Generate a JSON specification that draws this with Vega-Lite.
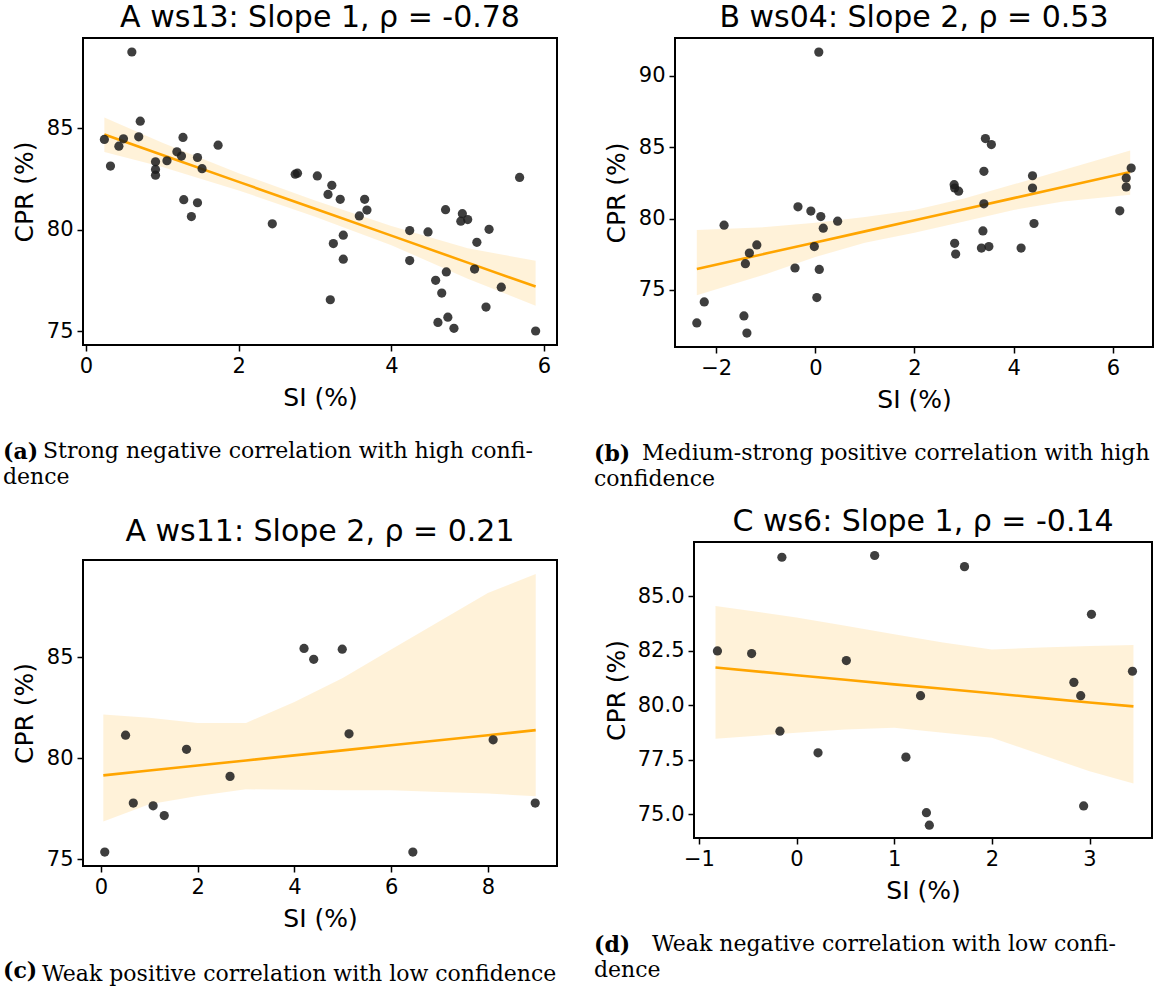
{
  "$schema": "https://vega.github.io/schema/vega-lite/v6.json",
  "background": "white",
  "padding": {"left": 3, "top": 2, "right": 2, "bottom": 2},
  "datasets": {
    "ptsA": [
      {"si":0.60,"cpr":88.77},{"si":0.24,"cpr":84.46},{"si":0.32,"cpr":83.15},{"si":0.49,"cpr":84.49},{"si":0.43,"cpr":84.13},
      {"si":0.71,"cpr":85.36},{"si":0.69,"cpr":84.59},{"si":0.91,"cpr":83.36},{"si":0.91,"cpr":82.98},{"si":0.91,"cpr":82.70},
      {"si":1.06,"cpr":83.41},{"si":1.19,"cpr":83.85},{"si":1.25,"cpr":83.64},{"si":1.27,"cpr":84.56},{"si":1.28,"cpr":81.49},
      {"si":1.38,"cpr":80.66},{"si":1.46,"cpr":83.57},{"si":1.46,"cpr":81.34},{"si":1.52,"cpr":83.02},{"si":1.73,"cpr":84.18},
      {"si":2.44,"cpr":80.30},{"si":2.74,"cpr":82.75},{"si":2.77,"cpr":82.80},{"si":3.03,"cpr":82.66},{"si":3.17,"cpr":81.75},
      {"si":3.22,"cpr":82.20},{"si":3.33,"cpr":81.51},{"si":3.24,"cpr":79.33},{"si":3.20,"cpr":76.56},{"si":3.37,"cpr":79.74},
      {"si":3.37,"cpr":78.56},{"si":3.58,"cpr":80.69},{"si":3.65,"cpr":81.51},{"si":3.68,"cpr":80.98},{"si":4.24,"cpr":79.97},
      {"si":4.24,"cpr":78.49},{"si":4.48,"cpr":79.90},{"si":4.58,"cpr":77.52},{"si":4.61,"cpr":75.44},{"si":4.66,"cpr":76.89},
      {"si":4.71,"cpr":81.00},{"si":4.72,"cpr":77.93},{"si":4.74,"cpr":75.70},{"si":4.82,"cpr":75.15},{"si":4.91,"cpr":80.43},
      {"si":4.93,"cpr":80.80},{"si":5.00,"cpr":80.51},{"si":5.09,"cpr":78.07},{"si":5.12,"cpr":79.39},{"si":5.24,"cpr":76.20},
      {"si":5.28,"cpr":80.03},{"si":5.44,"cpr":77.18},{"si":5.68,"cpr":82.59},{"si":5.89,"cpr":75.02}
    ],
    "fitA": [
      {"si":0.24,"fit":84.70,"lo":83.84,"hi":85.54},
      {"si":1.0,"fit":83.69,"lo":83.10,"hi":84.30},
      {"si":2.0,"fit":82.37,"lo":81.95,"hi":82.80},
      {"si":3.0,"fit":81.04,"lo":80.65,"hi":81.45},
      {"si":4.0,"fit":79.72,"lo":79.25,"hi":80.20},
      {"si":5.0,"fit":78.39,"lo":77.60,"hi":79.10},
      {"si":5.89,"fit":77.21,"lo":76.26,"hi":78.48}
    ],
    "ptsB": [
      {"si":0.07,"cpr":91.67},{"si":-2.39,"cpr":72.68},{"si":-2.24,"cpr":74.15},{"si":-1.84,"cpr":79.53},{"si":-1.44,"cpr":73.17},
      {"si":-1.38,"cpr":71.97},{"si":-1.41,"cpr":76.83},{"si":-1.33,"cpr":77.58},{"si":-1.18,"cpr":78.15},{"si":-0.41,"cpr":76.53},
      {"si":-0.35,"cpr":80.82},{"si":-0.09,"cpr":80.52},{"si":-0.02,"cpr":78.03},{"si":0.03,"cpr":74.46},{"si":0.08,"cpr":76.43},
      {"si":0.11,"cpr":80.14},{"si":0.16,"cpr":79.32},{"si":0.45,"cpr":79.81},{"si":2.80,"cpr":82.37},{"si":2.81,"cpr":82.14},
      {"si":2.89,"cpr":81.92},{"si":2.81,"cpr":78.26},{"si":2.83,"cpr":77.51},{"si":3.35,"cpr":77.93},{"si":3.38,"cpr":79.13},
      {"si":3.40,"cpr":81.03},{"si":3.40,"cpr":83.31},{"si":3.43,"cpr":85.61},{"si":3.55,"cpr":85.19},{"si":3.50,"cpr":78.03},
      {"si":4.15,"cpr":77.93},{"si":4.38,"cpr":83.00},{"si":4.38,"cpr":82.14},{"si":4.41,"cpr":79.65},{"si":6.14,"cpr":80.54},
      {"si":6.27,"cpr":82.21},{"si":6.27,"cpr":82.84},{"si":6.37,"cpr":83.54}
    ],
    "fitB": [
      {"si":-2.39,"fit":76.46,"lo":74.62,"hi":79.20},
      {"si":-1.0,"fit":77.54,"lo":76.10,"hi":79.40},
      {"si":0.0,"fit":78.32,"lo":77.30,"hi":79.70},
      {"si":1.0,"fit":79.10,"lo":78.30,"hi":80.10},
      {"si":2.0,"fit":79.88,"lo":79.00,"hi":80.60},
      {"si":3.0,"fit":80.65,"lo":79.80,"hi":81.40},
      {"si":4.0,"fit":81.43,"lo":80.60,"hi":82.40},
      {"si":5.0,"fit":82.21,"lo":81.20,"hi":83.40},
      {"si":6.35,"fit":83.26,"lo":81.67,"hi":84.77}
    ],
    "ptsC": [
      {"si":0.08,"cpr":75.35},{"si":0.51,"cpr":81.14},{"si":0.67,"cpr":77.78},{"si":1.08,"cpr":77.64},{"si":1.31,"cpr":77.16},
      {"si":1.77,"cpr":80.44},{"si":2.67,"cpr":79.10},{"si":4.20,"cpr":85.44},{"si":4.40,"cpr":84.90},{"si":4.99,"cpr":85.40},
      {"si":5.13,"cpr":81.21},{"si":6.45,"cpr":75.35},{"si":8.11,"cpr":80.91},{"si":8.98,"cpr":77.78}
    ],
    "fitC": [
      {"si":0.05,"fit":79.15,"lo":76.86,"hi":82.17},
      {"si":1.0,"fit":79.39,"lo":77.72,"hi":82.00},
      {"si":2.0,"fit":79.64,"lo":78.13,"hi":81.74},
      {"si":3.0,"fit":79.89,"lo":78.46,"hi":81.75},
      {"si":4.0,"fit":80.14,"lo":78.44,"hi":82.79},
      {"si":5.0,"fit":80.39,"lo":78.41,"hi":83.98},
      {"si":6.0,"fit":80.64,"lo":78.41,"hi":85.38},
      {"si":7.0,"fit":80.89,"lo":78.33,"hi":86.78},
      {"si":8.0,"fit":81.14,"lo":78.25,"hi":88.18},
      {"si":8.99,"fit":81.39,"lo":78.11,"hi":89.13}
    ],
    "ptsD": [
      {"si":-0.81,"cpr":82.48},{"si":-0.46,"cpr":82.36},{"si":-0.15,"cpr":86.78},{"si":-0.17,"cpr":78.80},{"si":0.22,"cpr":77.81},
      {"si":0.51,"cpr":82.04},{"si":0.80,"cpr":86.86},{"si":1.12,"cpr":77.61},{"si":1.27,"cpr":80.43},{"si":1.33,"cpr":75.06},
      {"si":1.36,"cpr":74.49},{"si":1.72,"cpr":86.35},{"si":2.84,"cpr":81.04},{"si":2.91,"cpr":80.43},{"si":2.94,"cpr":75.37},
      {"si":3.02,"cpr":84.16},{"si":3.44,"cpr":81.55}
    ],
    "fitD": [
      {"si":-0.83,"fit":81.72,"lo":78.45,"hi":84.54},
      {"si":0.0,"fit":81.37,"lo":78.73,"hi":84.02},
      {"si":0.5,"fit":81.16,"lo":78.88,"hi":83.64},
      {"si":1.0,"fit":80.95,"lo":78.96,"hi":83.25},
      {"si":1.5,"fit":80.75,"lo":78.73,"hi":82.87},
      {"si":2.0,"fit":80.54,"lo":78.50,"hi":82.55},
      {"si":2.5,"fit":80.33,"lo":77.73,"hi":82.64},
      {"si":3.0,"fit":80.12,"lo":76.96,"hi":82.71},
      {"si":3.45,"fit":79.94,"lo":76.40,"hi":82.75}
    ]
  },
  "config": {
    "view": {"stroke": "black", "strokeWidth": 2},
    "axis": {
      "domain": false, "grid": false,
      "tickColor": "black", "tickSize": 6, "tickWidth": 1.5,
      "labelFont": "DejaVu Sans", "labelFontSize": 21, "labelColor": "black", "labelPadding": 4,
      "titleFont": "DejaVu Sans", "titleFontSize": 25, "titleFontWeight": "normal", "titleColor": "black"
    },
    "axisX": {"titlePadding": 9, "format": "d"},
    "axisY": {"titlePadding": 8, "minExtent": 38, "maxExtent": 38},
    "title": {"color": "black", "fontWeight": "normal"}
  },
  "columns": 2,
  "align": "none",
  "spacing": {"row": 16, "column": 36},
  "concat": [
    {
      "title": {"text": "(a)", "orient": "bottom", "anchor": "start", "font": "DejaVu Serif", "fontSize": 22, "fontWeight": "bold", "offset": 0, "dy": -46},
      "vconcat": [{
        "title": {"text": "dence", "orient": "bottom", "anchor": "start", "font": "DejaVu Serif", "fontSize": 22, "offset": 5, "dx": -8},
        "vconcat": [{
          "title": {"text": "Strong negative correlation with high confi-", "orient": "bottom", "anchor": "start", "font": "DejaVu Serif", "fontSize": 22, "offset": 30, "dx": 32},
          "vconcat": [{
            "width": 474, "height": 307,
            "title": {"text": "A ws13: Slope 1, ρ = -0.78", "font": "DejaVu Sans", "fontSize": 30, "frame": "group", "anchor": "middle", "offset": 5},
            "layer": [
              {"data": {"name": "fitA"}, "mark": {"type": "area", "color": "#FFA500", "opacity": 0.15},
               "encoding": {
                 "x": {"field": "si", "type": "quantitative", "title": "SI (%)", "scale": {"domain": [-0.04, 6.17], "nice": false, "zero": false}, "axis": {"values": [0, 2, 4, 6]}},
                 "y": {"field": "lo", "type": "quantitative", "title": "CPR (%)", "scale": {"domain": [74.33, 89.46], "nice": false, "zero": false}, "axis": {"values": [75, 80, 85]}},
                 "y2": {"field": "hi"}}},
              {"data": {"name": "fitA"}, "mark": {"type": "line", "color": "#FFA500", "strokeWidth": 2.6},
               "encoding": {"x": {"field": "si", "type": "quantitative", "title": "SI (%)"}, "y": {"field": "fit", "type": "quantitative", "title": "CPR (%)"}}},
              {"data": {"name": "ptsA"}, "mark": {"type": "circle", "size": 85, "color": "#1c1c1c", "opacity": 0.85},
               "encoding": {"x": {"field": "si", "type": "quantitative", "title": "SI (%)"}, "y": {"field": "cpr", "type": "quantitative", "title": "CPR (%)"}}}
            ]
          }]
        }]
      }]
    },
    {
      "title": {"text": "(b)", "orient": "bottom", "anchor": "start", "font": "DejaVu Serif", "fontSize": 22, "fontWeight": "bold", "offset": 0, "dy": -46},
      "vconcat": [{
        "title": {"text": "confidence", "orient": "bottom", "anchor": "start", "font": "DejaVu Serif", "fontSize": 22, "offset": 5, "dx": -9},
        "vconcat": [{
          "title": {"text": "Medium-strong positive correlation with high", "orient": "bottom", "anchor": "start", "font": "DejaVu Serif", "fontSize": 22, "offset": 30, "dx": 39},
          "vconcat": [{
            "width": 478, "height": 309,
            "title": {"text": "B ws04: Slope 2, ρ = 0.53", "font": "DejaVu Sans", "fontSize": 30, "frame": "group", "anchor": "middle", "offset": 5},
            "layer": [
              {"data": {"name": "fitB"}, "mark": {"type": "area", "color": "#FFA500", "opacity": 0.15},
               "encoding": {
                 "x": {"field": "si", "type": "quantitative", "title": "SI (%)", "scale": {"domain": [-2.83, 6.81], "nice": false, "zero": false}, "axis": {"values": [-2, 0, 2, 4, 6]}},
                 "y": {"field": "lo", "type": "quantitative", "title": "CPR (%)", "scale": {"domain": [70.99, 92.66], "nice": false, "zero": false}, "axis": {"values": [75, 80, 85, 90]}},
                 "y2": {"field": "hi"}}},
              {"data": {"name": "fitB"}, "mark": {"type": "line", "color": "#FFA500", "strokeWidth": 2.6},
               "encoding": {"x": {"field": "si", "type": "quantitative", "title": "SI (%)"}, "y": {"field": "fit", "type": "quantitative", "title": "CPR (%)"}}},
              {"data": {"name": "ptsB"}, "mark": {"type": "circle", "size": 85, "color": "#1c1c1c", "opacity": 0.85},
               "encoding": {"x": {"field": "si", "type": "quantitative", "title": "SI (%)"}, "y": {"field": "cpr", "type": "quantitative", "title": "CPR (%)"}}}
            ]
          }]
        }]
      }]
    },
    {
      "title": {"text": "(c)", "orient": "bottom", "anchor": "start", "font": "DejaVu Serif", "fontSize": 22, "fontWeight": "bold", "offset": 0, "dy": -24, "dx": -8},
      "vconcat": [{
        "title": {"text": "Weak positive correlation with low confidence", "orient": "bottom", "anchor": "start", "font": "DejaVu Serif", "fontSize": 22, "offset": 32, "dx": 31},
        "vconcat": [{
          "width": 474, "height": 306,
          "title": {"text": ["", "A ws11: Slope 2, ρ = 0.21"], "lineHeight": 10, "font": "DejaVu Sans", "fontSize": 30, "frame": "group", "anchor": "middle", "offset": 13},
          "layer": [
            {"data": {"name": "fitC"}, "mark": {"type": "area", "color": "#FFA500", "opacity": 0.15},
             "encoding": {
               "x": {"field": "si", "type": "quantitative", "title": "SI (%)", "scale": {"domain": [-0.37, 9.43], "nice": false, "zero": false}, "axis": {"values": [0, 2, 4, 6, 8]}},
               "y": {"field": "lo", "type": "quantitative", "title": "CPR (%)", "scale": {"domain": [74.66, 89.82], "nice": false, "zero": false}, "axis": {"values": [75, 80, 85]}},
               "y2": {"field": "hi"}}},
            {"data": {"name": "fitC"}, "mark": {"type": "line", "color": "#FFA500", "strokeWidth": 2.6},
             "encoding": {"x": {"field": "si", "type": "quantitative", "title": "SI (%)"}, "y": {"field": "fit", "type": "quantitative", "title": "CPR (%)"}}},
            {"data": {"name": "ptsC"}, "mark": {"type": "circle", "size": 85, "color": "#1c1c1c", "opacity": 0.85},
             "encoding": {"x": {"field": "si", "type": "quantitative", "title": "SI (%)"}, "y": {"field": "cpr", "type": "quantitative", "title": "CPR (%)"}}}
          ]
        }]
      }]
    },
    {
      "title": {"text": "(d)", "orient": "bottom", "anchor": "start", "font": "DejaVu Serif", "fontSize": 22, "fontWeight": "bold", "offset": 0, "dy": -46},
      "vconcat": [{
        "title": {"text": "dence", "orient": "bottom", "anchor": "start", "font": "DejaVu Serif", "fontSize": 22, "offset": 5, "dx": -9},
        "vconcat": [{
          "title": {"text": "Weak negative correlation with low confi-", "orient": "bottom", "anchor": "start", "font": "DejaVu Serif", "fontSize": 22, "offset": 30, "dx": 49},
          "vconcat": [{
            "width": 458, "height": 296,
            "title": {"text": "C ws6: Slope 1, ρ = -0.14", "font": "DejaVu Sans", "fontSize": 30, "frame": "group", "anchor": "middle", "offset": 5},
            "layer": [
              {"data": {"name": "fitD"}, "mark": {"type": "area", "color": "#FFA500", "opacity": 0.15},
               "encoding": {
                 "x": {"field": "si", "type": "quantitative", "title": "SI (%)", "scale": {"domain": [-1.05, 3.64], "nice": false, "zero": false}, "axis": {"values": [-1, 0, 1, 2, 3]}},
                 "y": {"field": "lo", "type": "quantitative", "title": "CPR (%)", "scale": {"domain": [73.9, 87.48], "nice": false, "zero": false}, "axis": {"values": [75, 77.5, 80, 82.5, 85], "format": ".1f", "minExtent": 57, "maxExtent": 57}},
                 "y2": {"field": "hi"}}},
              {"data": {"name": "fitD"}, "mark": {"type": "line", "color": "#FFA500", "strokeWidth": 2.6},
               "encoding": {"x": {"field": "si", "type": "quantitative", "title": "SI (%)"}, "y": {"field": "fit", "type": "quantitative", "title": "CPR (%)"}}},
              {"data": {"name": "ptsD"}, "mark": {"type": "circle", "size": 85, "color": "#1c1c1c", "opacity": 0.85},
               "encoding": {"x": {"field": "si", "type": "quantitative", "title": "SI (%)"}, "y": {"field": "cpr", "type": "quantitative", "title": "CPR (%)"}}}
            ]
          }]
        }]
      }]
    }
  ]
}
